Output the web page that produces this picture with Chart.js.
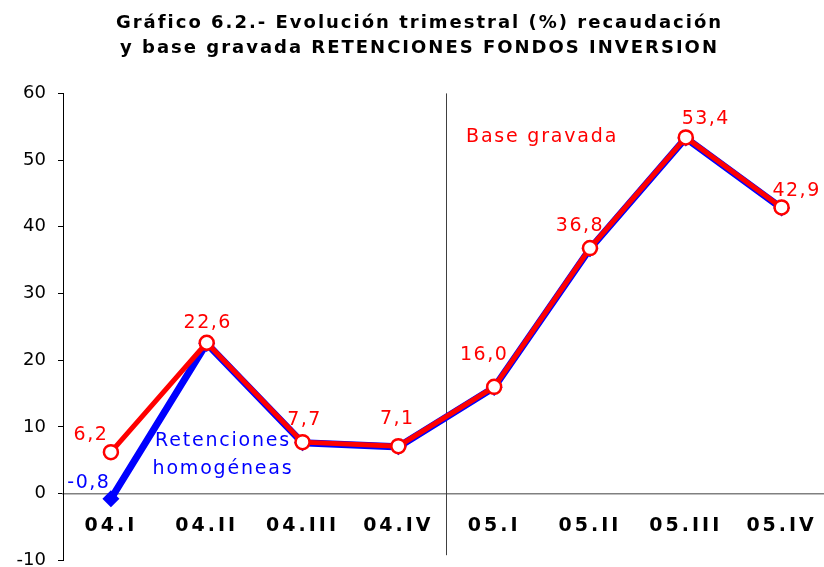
<!DOCTYPE html>
<html><head><meta charset="utf-8">
<script src="https://cdn.jsdelivr.net/npm/chart.js@4/dist/chart.umd.min.js"></script>
<style>
html,body{margin:0;padding:0;overflow:hidden;background:#fff;width:824px;height:567px}
#wrap{position:relative;width:839px;height:583px}
</style>
</head><body><div id="wrap"><canvas id="c"></canvas></div>
<script>
const categories = ['04.I','04.II','04.III','04.IV','05.I','05.II','05.III','05.IV'];
const baseGravada = [6.2, 22.6, 7.7, 7.1, 16.0, 36.8, 53.4, 42.9];
const retenciones = [-0.8, 22.5, 7.6, 7.0, 15.9, 36.7, 53.3, 42.8];
const yTicks = [-10, 0, 10, 20, 30, 40, 50, 60];
const titleLines = ['Gráfico 6.2.- Evolución trimestral (%) recaudación', 'y base gravada RETENCIONES FONDOS INVERSION'];
const seriesNames = ['Base gravada', 'Retenciones homogéneas'];

const RED = '#ff0000', BLUE = '#0000ff';
const fmt = v => v.toFixed(1).replace('.', ',');

const patchPlugin = {
  id: 'patch',
  beforeDraw(chart) {
    const s = chart.scales.x;
    if (s && !s._patched) {
      const orig = s.drawLabels;
      s.drawLabels = function (a) { const c = this.ctx; const p = c.letterSpacing; c.letterSpacing = '3px'; orig.call(this, a); c.letterSpacing = p; };
      s._patched = true;
    }
    const tb = chart.titleBlock;
    if (tb && !tb._patched) {
      const o = tb.draw;
      tb.draw = function (a) { const c = this.ctx; const p = c.letterSpacing; c.letterSpacing = '2px'; o.call(this, a); c.letterSpacing = p; };
      tb._patched = true;
    }
  }
};

const sepPlugin = {
  id: 'sep',
  beforeDatasetsDraw(chart) {
    const xs = chart.scales.x, ca = chart.chartArea;
    const x = Math.round((xs.getPixelForValue(3) + xs.getPixelForValue(4)) / 2) + 0.5;
    const ctx = chart.ctx;
    ctx.save();
    ctx.strokeStyle = '#404040'; ctx.lineWidth = 1;
    ctx.beginPath(); ctx.moveTo(x, ca.top); ctx.lineTo(x, ca.bottom - 5); ctx.stroke();
    ctx.restore();
  }
};

const labelPlugin = {
  id: 'vlabels',
  afterDatasetsDraw(chart, args, opts) {
    const ctx = chart.ctx;
    ctx.save();
    ctx.font = '19px "DejaVu Sans"';
    ctx.letterSpacing = '1.5px';
    ctx.textAlign = 'center'; ctx.textBaseline = 'middle';
    const red = chart.getDatasetMeta(0);
    ctx.fillStyle = RED;
    red.data.forEach((pt, i) => {
      const o = opts.redOffsets[i];
      ctx.fillText(fmt(baseGravada[i]), pt.x + o[0], pt.y + o[1]);
    });
    const blue = chart.getDatasetMeta(1);
    const p0 = blue.data[0];
    ctx.fillStyle = BLUE;
    ctx.fillText(fmt(retenciones[0]), p0.x + opts.blueOffset[0], p0.y + opts.blueOffset[1]);
    const xs = chart.scales.x, ys = chart.scales.y;
    ctx.letterSpacing = '1.8px';
    const words = seriesNames[1].split(' ');
    ctx.fillStyle = BLUE;
    ctx.fillText(words[0], xs.getPixelForValue(opts.blueNameAt[0]), ys.getPixelForValue(opts.blueNameAt[1]));
    ctx.fillText(words[1], xs.getPixelForValue(opts.blueNameAt[0]), ys.getPixelForValue(opts.blueNameAt[2]));
    ctx.fillStyle = RED;
    ctx.fillText(seriesNames[0], xs.getPixelForValue(opts.redNameAt[0]), ys.getPixelForValue(opts.redNameAt[1]));
    ctx.restore();
  }
};

new Chart(document.getElementById('c'), {
  type: 'line',
  data: {
    labels: categories,
    datasets: [
      {
        label: seriesNames[0], data: baseGravada,
        borderColor: RED, borderWidth: 5, backgroundColor: '#ffffff',
        pointStyle: 'circle', pointRadius: 7, pointBorderWidth: 2.5, pointBorderColor: RED, pointBackgroundColor: '#ffffff',
        tension: 0, fill: false
      },
      {
        label: seriesNames[1], data: retenciones,
        borderColor: BLUE, borderWidth: 7, backgroundColor: BLUE,
        pointStyle: 'rectRot', pointRadius: 8.5, pointBorderWidth: 0, pointBackgroundColor: BLUE,
        tension: 0, fill: false
      }
    ]
  },
  options: {
    responsive: true, maintainAspectRatio: false, animation: false,
    layout: { padding: { left: 0, right: 0, top: 0, bottom: 17 } },
    plugins: {
      legend: { display: false }, tooltip: { enabled: false },
      title: {
        display: true, text: titleLines, color: '#000',
        font: { family: 'DejaVu Sans', size: 18, weight: 'bold', lineHeight: 1.4 },
        padding: { top: 11, bottom: 32 }
      },
      vlabels: {
        redOffsets: [[-20, -17], [1, -20], [2, -22], [-1, -27], [-10, -32], [-10, -22], [20, -18], [15, -16]],
        blueOffset: [-22, -16],
        blueNameAt: [1.17, 7.8, 3.6],
        redNameAt: [4.5, 53.5]
      }
    },
    scales: {
      x: {
        type: 'category', offset: true,
        position: { y: 0 },
        afterFit(s) { s.paddingLeft = 0; s.paddingRight = 0; },
        grid: { display: false, drawTicks: false },
        border: { display: true, color: '#808080', width: 1.5 },
        ticks: { color: '#000', font: { family: 'DejaVu Sans', size: 19, weight: 'bold' }, padding: 21, maxRotation: 0, autoSkip: false }
      },
      y: {
        min: -10, max: 60,
        afterBuildTicks(s) { s.ticks = yTicks.map(v => ({ value: v })); },
        afterFit(s) { s.width = 63; },
        grid: { display: true, drawOnChartArea: false, drawTicks: true, tickLength: 5, color: '#000' },
        border: { display: true, color: '#000', width: 1 },
        ticks: { color: '#000', font: { family: 'DejaVu Sans', size: 18 }, padding: 12 }
      }
    }
  },
  plugins: [patchPlugin, sepPlugin, labelPlugin]
});
</script>
</body></html>
